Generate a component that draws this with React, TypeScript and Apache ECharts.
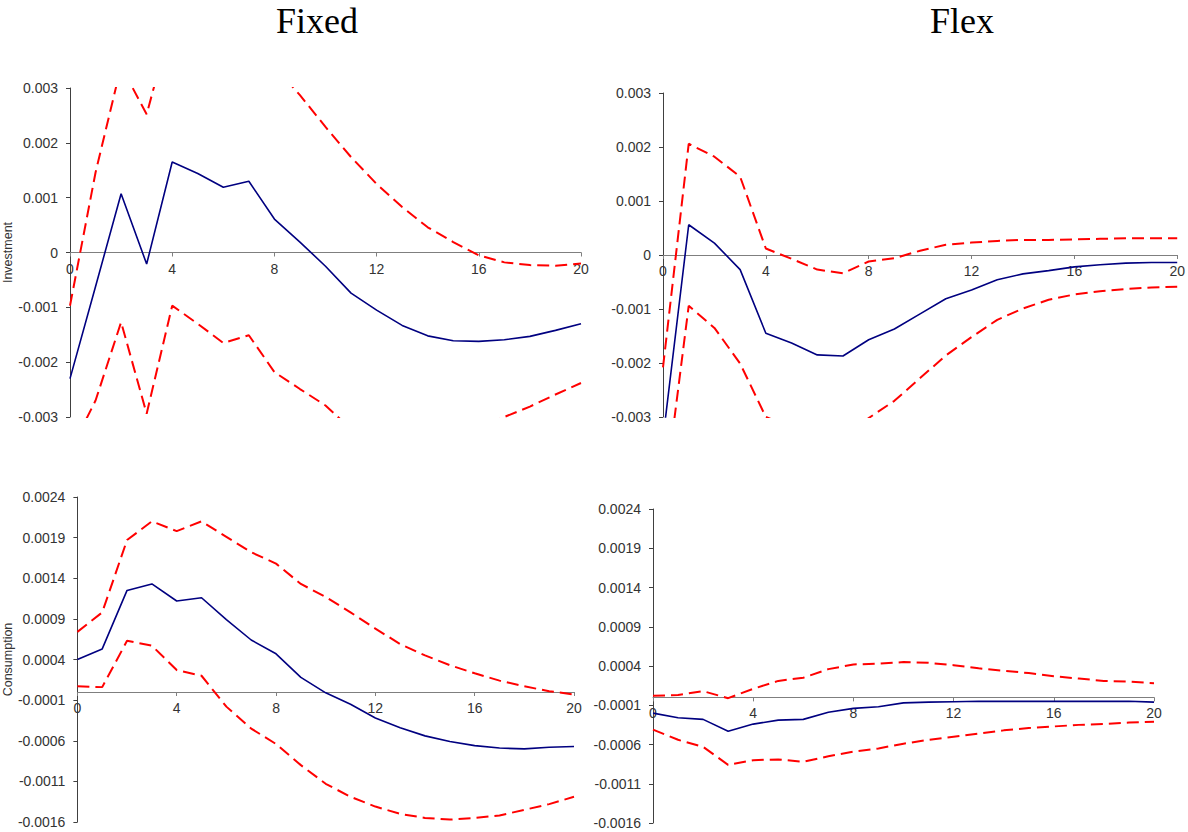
import React, { useEffect, useRef } from "react";
import * as echarts from "echarts";

const periods = Array.from({ length: 21 }, (_, i) => i);

// Fixed — Investment
const fixedInvIRF = [-0.0023, -0.00062, 0.00107, -0.00021, 0.00165, 0.00144, 0.00119, 0.0013, 0.00061, 0.00019, -0.00025, -0.00074, -0.00105, -0.00133, -0.00152, -0.00161, -0.00162, -0.00159, -0.00153, -0.00142, -0.0013];
const fixedInvUpper = [-0.00097, 0.00146, 0.0034, 0.00252, 0.00425, 0.00418, 0.00403, 0.00411, 0.0034, 0.00287, 0.00229, 0.00174, 0.00125, 0.00083, 0.00046, 0.00019, -0.00005, -0.00018, -0.00023, -0.00024, -0.0002];
const fixedInvLower = [-0.00363, -0.0027, -0.00127, -0.00294, -0.00097, -0.0013, -0.00165, -0.00151, -0.00218, -0.00249, -0.00279, -0.00322, -0.00335, -0.00349, -0.0035, -0.00341, -0.00319, -0.003, -0.00281, -0.00259, -0.00238];

// Flex — Investment
const flexInvIRF = [-0.0034, 0.00056, 0.00022, -0.00027, -0.00145, -0.00163, -0.00185, -0.00187, -0.00157, -0.00137, -0.00109, -0.00081, -0.00065, -0.00046, -0.00035, -0.00029, -0.00022, -0.00018, -0.00015, -0.00014, -0.00014];
const flexInvUpper = [-0.00208, 0.00206, 0.00182, 0.00145, 0.00012, -0.00007, -0.00027, -0.00034, -0.00012, -0.00006, 0.00008, 0.00019, 0.00023, 0.00026, 0.00028, 0.00028, 0.00029, 0.0003, 0.00031, 0.00031, 0.00031];
const flexInvLower = [-0.0047, -0.00094, -0.00135, -0.00201, -0.003, -0.00319, -0.00343, -0.0034, -0.00302, -0.0027, -0.00228, -0.00186, -0.00152, -0.0012, -0.00099, -0.00083, -0.00073, -0.00067, -0.00063, -0.0006, -0.00059];

// Fixed — Consumption
const fixedConIRF = [0.0004, 0.00053, 0.00125, 0.00133, 0.00112, 0.00116, 0.00089, 0.00064, 0.00047, 0.00018, -0.00001, -0.00015, -0.00032, -0.00044, -0.00054, -0.00061, -0.00066, -0.00069, -0.0007, -0.00068, -0.00067];
const fixedConUpper = [0.00074, 0.00098, 0.00187, 0.0021, 0.00198, 0.0021, 0.00191, 0.00172, 0.00158, 0.00133, 0.00117, 0.00098, 0.00078, 0.00059, 0.00045, 0.00033, 0.00023, 0.00014, 0.00007, 0.00001, -0.00003];
const fixedConLower = [0.00007, 0.00006, 0.00063, 0.00057, 0.00027, 0.0002, -0.00018, -0.00045, -0.00064, -0.0009, -0.00113, -0.00129, -0.00141, -0.0015, -0.00155, -0.00157, -0.00155, -0.00152, -0.00145, -0.00138, -0.00129];

// Flex — Consumption
const flexConIRF = [-0.0002, -0.00026, -0.00028, -0.00043, -0.00034, -0.00029, -0.00028, -0.00019, -0.00014, -0.00012, -0.00007, -0.00006, -0.000055, -0.00005, -0.00005, -0.00005, -0.00005, -0.00005, -0.00005, -0.00005, -0.00006];
const flexConUpper = [0.00002, 0.00003, 0.00008, -0.00001, 0.00011, 0.00021, 0.00025, 0.00036, 0.00042, 0.00043, 0.00045, 0.00044, 0.00041, 0.00037, 0.00034, 0.00031, 0.00027, 0.00024, 0.00021, 0.0002, 0.00018];
const flexConLower = [-0.00041, -0.00054, -0.00063, -0.00086, -0.0008, -0.00079, -0.00082, -0.00075, -0.00069, -0.00065, -0.00059, -0.00054, -0.0005, -0.00046, -0.00042, -0.00039, -0.00037, -0.00035, -0.00034, -0.00032, -0.00031];

const columnTitles = ["Fixed", "Flex"];
const rowNames = ["Investment", "Consumption"];

const panels = [
  { irf: fixedInvIRF, up: fixedInvUpper, lo: fixedInvLower, min: -0.003, max: 0.003, interval: 0.001, name: rowNames[0] },
  { irf: flexInvIRF, up: flexInvUpper, lo: flexInvLower, min: -0.003, max: 0.003, interval: 0.001, name: "" },
  { irf: fixedConIRF, up: fixedConUpper, lo: fixedConLower, min: -0.0016, max: 0.0024, interval: 0.0005, name: rowNames[1] },
  { irf: flexConIRF, up: flexConUpper, lo: flexConLower, min: -0.0016, max: 0.0024, interval: 0.0005, name: "" },
];

const grids = [
  { left: 68, top: 88, width: 513, height: 329 },
  { left: 663, top: 93, width: 517, height: 324 },
  { left: 68, top: 497, width: 506, height: 325 },
  { left: 653, top: 509, width: 501, height: 314 },
];

const FONT = "Liberation Sans, Arial, sans-serif";
const TEXT = "#333333";

export default function App() {
  const ref = useRef<HTMLDivElement>(null);
  useEffect(() => {
    if (!ref.current) return;
    const chart = echarts.init(ref.current, undefined, { renderer: "svg" });
    const fmt = (v: number) => String(Math.round(v * 1e5) / 1e5);
    const option: any = {
      animation: false,
      backgroundColor: "#ffffff",
      title: [
        { text: columnTitles[0], left: 312, top: -2, textAlign: "center", textStyle: { fontFamily: "Liberation Serif, Times New Roman, serif", fontSize: 36, fontWeight: "normal", color: "#000" } },
        { text: columnTitles[1], left: 957, top: -2, textAlign: "center", textStyle: { fontFamily: "Liberation Serif, Times New Roman, serif", fontSize: 36, fontWeight: "normal", color: "#000" } },
      ],
      grid: grids.map((g) => ({ ...g, containLabel: false })),
      xAxis: panels.map((p, i) => ({
        type: "value",
        gridIndex: i,
        min: 0,
        max: 20,
        interval: 4,
        position: "bottom",
        // place the axis (line, ticks and labels) on the y = 0 level of its grid
        offset: -(grids[i].height * (0 - p.min)) / (p.max - p.min),
        axisLine: { onZero: false, lineStyle: { color: "#7f7f7f", width: 1 } },
        axisTick: { show: true, length: 4, lineStyle: { color: "#7f7f7f" } },
        axisLabel: { fontFamily: FONT, fontSize: 14, color: TEXT, margin: 9 },
        splitLine: { show: false },
      })),
      yAxis: panels.map((p, i) => ({
        type: "value",
        gridIndex: i,
        min: p.min,
        max: p.max,
        interval: p.interval,
        name: p.name,
        nameLocation: "middle",
        nameGap: 56,
        nameRotate: 90,
        nameTextStyle: { fontFamily: FONT, fontSize: 12.5, color: TEXT },
        axisLine: { show: true, onZero: false, lineStyle: { color: "#404040", width: 1 } },
        axisTick: { show: true, length: 4, lineStyle: { color: "#404040" } },
        axisLabel: { fontFamily: FONT, fontSize: 14, color: TEXT, margin: 12, formatter: fmt },
        splitLine: { show: false },
      })),
      series: panels.flatMap((p, i) => [
        {
          type: "line",
          xAxisIndex: i,
          yAxisIndex: i,
          data: periods.map((t, k) => [t, p.up[k]]),
          symbol: "none",
          clip: true,
          lineStyle: { color: "#ff0000", width: 2, type: [12, 6] },
        },
        {
          type: "line",
          xAxisIndex: i,
          yAxisIndex: i,
          data: periods.map((t, k) => [t, p.lo[k]]),
          symbol: "none",
          clip: true,
          lineStyle: { color: "#ff0000", width: 2, type: [12, 6] },
        },
        {
          type: "line",
          xAxisIndex: i,
          yAxisIndex: i,
          data: periods.map((t, k) => [t, p.irf[k]]),
          symbol: "none",
          clip: true,
          lineStyle: { color: "#000080", width: 1.6 },
        },
      ]),
    };
    chart.setOption(option);
    return () => chart.dispose();
  }, []);
  return (
    <div
      ref={ref}
      style={{ position: "fixed", left: 0, top: 0, width: 1188, height: 832, background: "#fff" }}
    />
  );
}
